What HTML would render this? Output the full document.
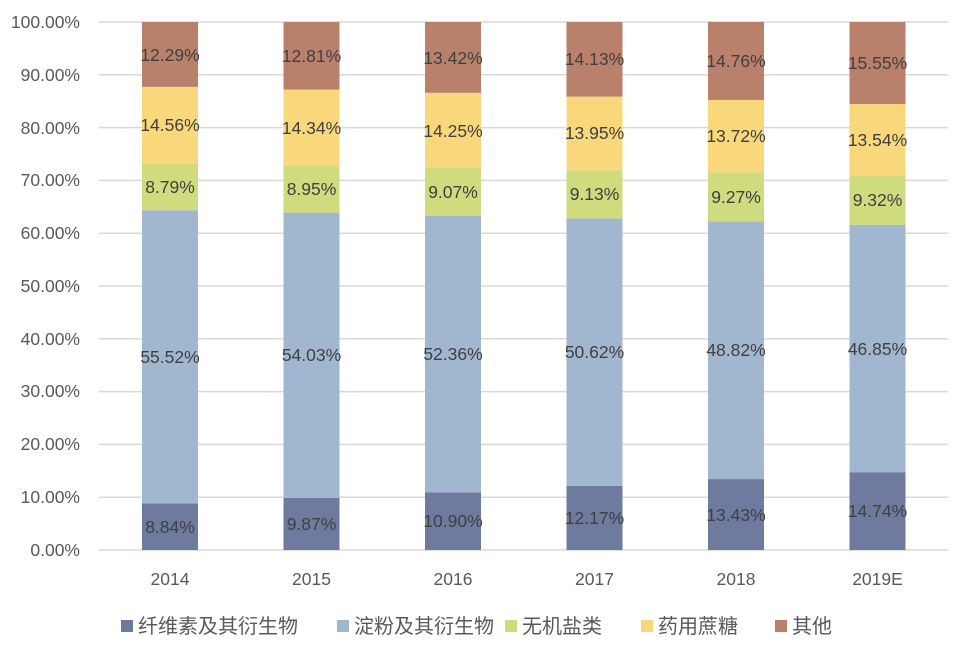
<!DOCTYPE html>
<html><head><meta charset="utf-8"><style>
html,body{margin:0;padding:0;background:#fff;}
svg{display:block;font-family:"Liberation Sans","Noto Sans CJK SC",sans-serif;}
</style></head><body>
<svg width="953" height="648" viewBox="0 0 953 648">
<g stroke="#d9d9d9" stroke-width="1.5">
<line x1="99" x2="948" y1="22" y2="22"/><line x1="99" x2="948" y1="74.8" y2="74.8"/>
<line x1="99" x2="948" y1="127.6" y2="127.6"/><line x1="99" x2="948" y1="180.4" y2="180.4"/>
<line x1="99" x2="948" y1="233.2" y2="233.2"/><line x1="99" x2="948" y1="286" y2="286"/>
<line x1="99" x2="948" y1="338.8" y2="338.8"/><line x1="99" x2="948" y1="391.6" y2="391.6"/>
<line x1="99" x2="948" y1="444.4" y2="444.4"/><line x1="99" x2="948" y1="497.2" y2="497.2"/>
<line x1="99" x2="948" y1="550" y2="550"/>
</g>
<g font-size="17.5" fill="#595959" text-anchor="end">
<text x="80" y="28">100.00%</text><text x="80" y="81">90.00%</text><text x="80" y="134">80.00%</text>
<text x="80" y="186">70.00%</text><text x="80" y="239">60.00%</text><text x="80" y="292">50.00%</text>
<text x="80" y="345">40.00%</text><text x="80" y="397">30.00%</text><text x="80" y="450">20.00%</text>
<text x="80" y="503">10.00%</text><text x="80" y="556">0.00%</text>
</g>
<g>
<rect x="142" y="503.32" width="56" height="46.68" fill="#6f7a9f"/>
<rect x="142" y="210.17" width="56" height="293.15" fill="#a1b7cf"/>
<rect x="142" y="163.76" width="56" height="46.41" fill="#cfdb7d"/>
<rect x="142" y="86.88" width="56" height="76.88" fill="#f9d87c"/>
<rect x="142" y="22" width="56" height="64.88" fill="#b9816b"/>

<rect x="283.5" y="497.89" width="56" height="52.11" fill="#6f7a9f"/>
<rect x="283.5" y="212.61" width="56" height="285.28" fill="#a1b7cf"/>
<rect x="283.5" y="165.35" width="56" height="47.26" fill="#cfdb7d"/>
<rect x="283.5" y="89.63" width="56" height="75.72" fill="#f9d87c"/>
<rect x="283.5" y="22" width="56" height="67.63" fill="#b9816b"/>

<rect x="425" y="492.45" width="56" height="57.55" fill="#6f7a9f"/>
<rect x="425" y="215.99" width="56" height="276.46" fill="#a1b7cf"/>
<rect x="425" y="168.10" width="56" height="47.89" fill="#cfdb7d"/>
<rect x="425" y="92.86" width="56" height="75.24" fill="#f9d87c"/>
<rect x="425" y="22" width="56" height="70.86" fill="#b9816b"/>

<rect x="566.5" y="485.74" width="56" height="64.26" fill="#6f7a9f"/>
<rect x="566.5" y="218.47" width="56" height="267.27" fill="#a1b7cf"/>
<rect x="566.5" y="170.26" width="56" height="48.21" fill="#cfdb7d"/>
<rect x="566.5" y="96.60" width="56" height="73.66" fill="#f9d87c"/>
<rect x="566.5" y="22" width="56" height="74.60" fill="#b9816b"/>

<rect x="708" y="479.09" width="56" height="70.91" fill="#6f7a9f"/>
<rect x="708" y="221.32" width="56" height="257.77" fill="#a1b7cf"/>
<rect x="708" y="172.37" width="56" height="48.95" fill="#cfdb7d"/>
<rect x="708" y="99.93" width="56" height="72.44" fill="#f9d87c"/>
<rect x="708" y="22" width="56" height="77.93" fill="#b9816b"/>

<rect x="849.5" y="472.17" width="56" height="77.83" fill="#6f7a9f"/>
<rect x="849.5" y="224.80" width="56" height="247.37" fill="#a1b7cf"/>
<rect x="849.5" y="175.59" width="56" height="49.21" fill="#cfdb7d"/>
<rect x="849.5" y="104.10" width="56" height="71.49" fill="#f9d87c"/>
<rect x="849.5" y="22" width="56" height="82.10" fill="#b9816b"/>
</g>
<g font-size="17.5" fill="#404040" text-anchor="middle">
<text x="170" y="533">8.84%</text><text x="170" y="363">55.52%</text><text x="170" y="193">8.79%</text><text x="170" y="131">14.56%</text><text x="170" y="61">12.29%</text>
<text x="311.5" y="530">9.87%</text><text x="311.5" y="361">54.03%</text><text x="311.5" y="195">8.95%</text><text x="311.5" y="134">14.34%</text><text x="311.5" y="62">12.81%</text>
<text x="453" y="527">10.90%</text><text x="453" y="360">52.36%</text><text x="453" y="198">9.07%</text><text x="453" y="137">14.25%</text><text x="453" y="64">13.42%</text>
<text x="594.5" y="524">12.17%</text><text x="594.5" y="358">50.62%</text><text x="594.5" y="200">9.13%</text><text x="594.5" y="139">13.95%</text><text x="594.5" y="65">14.13%</text>
<text x="736" y="521">13.43%</text><text x="736" y="356">48.82%</text><text x="736" y="203">9.27%</text><text x="736" y="142">13.72%</text><text x="736" y="67">14.76%</text>
<text x="877.5" y="517">14.74%</text><text x="877.5" y="355">46.85%</text><text x="877.5" y="206">9.32%</text><text x="877.5" y="146">13.54%</text><text x="877.5" y="69">15.55%</text>
</g>
<g font-size="17.5" fill="#595959" text-anchor="middle">
<text x="170" y="585">2014</text><text x="311.5" y="585">2015</text><text x="453" y="585">2016</text>
<text x="594.5" y="585">2017</text><text x="736" y="585">2018</text><text x="877.5" y="585">2019E</text>
</g>
<g font-size="20" fill="#595959">
<rect x="121" y="620" width="12" height="12" fill="#6f7a9f"/><text x="138" y="633">纤维素及其衍生物</text>
<rect x="337" y="620" width="12" height="12" fill="#a1b7cf"/><text x="354" y="633">淀粉及其衍生物</text>
<rect x="505" y="620" width="12" height="12" fill="#cfdb7d"/><text x="522" y="633">无机盐类</text>
<rect x="641" y="620" width="12" height="12" fill="#f9d87c"/><text x="658" y="633">药用蔗糖</text>
<rect x="775" y="620" width="12" height="12" fill="#b9816b"/><text x="792" y="633">其他</text>
</g>
</svg>
</body></html>
